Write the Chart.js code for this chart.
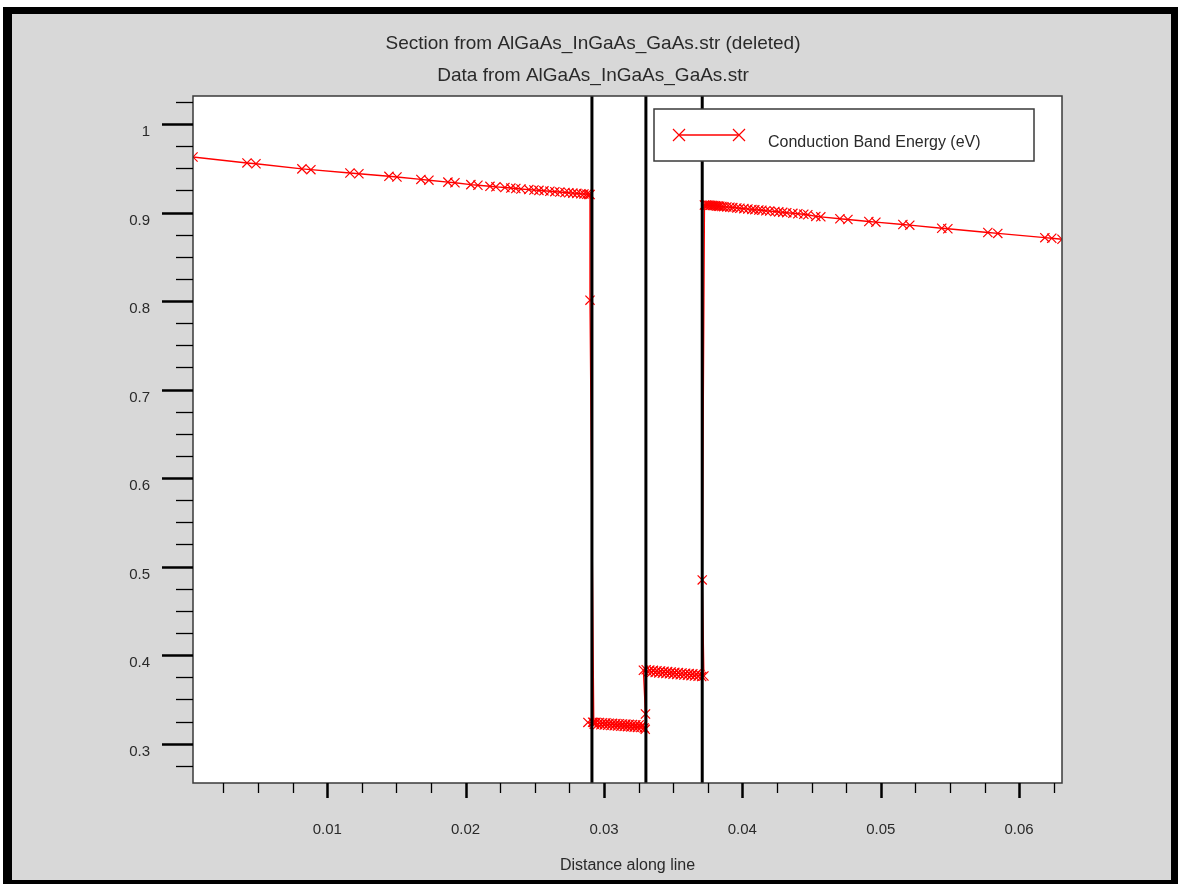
<!DOCTYPE html>
<html><head><meta charset="utf-8">
<script src="https://cdn.jsdelivr.net/npm/chart.js@4"></script>
<style>html,body{margin:0;padding:0;background:#fff;}canvas{display:block;}</style>
</head><body>
<canvas id="c" width="1178" height="884"></canvas>
<script>
// ---- data ----
const titles = ['Section from AlGaAs_InGaAs_GaAs.str (deleted)', 'Data from AlGaAs_InGaAs_GaAs.str'];
const seriesLabel = 'Conduction Band Energy (eV)';
const xTitle = 'Distance along line';
const xRange = [0.0003, 0.0631];
const yRange = [0.2556, 1.0316];
const xStep = 0.0025, xMajor = 0.01;
const yStep = 0.025, yMajor = 0.1;
const boundaries = [0.02913, 0.03303, 0.03710];

// left AlGaAs region (ends with the interface point at 0.8)
const distLeft = [0.00030,0.00420,0.00485,0.00817,0.00882,0.01164,0.01229,0.01446,0.01504,0.01677,0.01735,0.01872,0.01923,0.02038,0.02089,0.02176,0.02219,0.02284,0.02327,0.02363,0.02400,0.02457,0.02494,0.02530,0.02566,0.02609,0.02645,0.02681,0.02718,0.02746,0.02775,0.02804,0.02833,0.02855,0.02876,0.02891,0.02900,0.02899];
const ecLeft   = [0.9627,0.9560,0.9551,0.9493,0.9484,0.9446,0.9438,0.9409,0.9401,0.9374,0.9365,0.9343,0.9336,0.9315,0.9308,0.9296,0.9290,0.9282,0.9276,0.9271,0.9266,0.9259,0.9254,0.9250,0.9245,0.9240,0.9235,0.9231,0.9226,0.9223,0.9219,0.9216,0.9212,0.9210,0.9207,0.9205,0.9203,0.8010];
// first well (dense mesh, two rows of nodes)
const distWell1 = [0.02926,0.02884,0.02918,0.02930,0.02942,0.02954,0.02966,0.02978,0.02990,0.03002,0.03014,0.03026,0.03038,0.03050,0.03062,0.03074,0.03086,0.03098,0.03110,0.03122,0.03134,0.03146,0.03158,0.03170,0.03182,0.03194,0.03206,0.03218,0.03230,0.03242,0.03254,0.03266,0.03278,0.03290,0.03298,0.03300];
const ecWell1   = [0.3240,0.3240,0.3243,0.3219,0.3241,0.3216,0.3239,0.3214,0.3237,0.3211,0.3235,0.3208,0.3232,0.3206,0.3230,0.3203,0.3228,0.3200,0.3226,0.3198,0.3223,0.3195,0.3221,0.3192,0.3219,0.3190,0.3217,0.3187,0.3214,0.3184,0.3212,0.3182,0.3210,0.3178,0.3162,0.3335];
// second well
const distWell2 = [0.03285,0.03305,0.03318,0.03331,0.03344,0.03357,0.03370,0.03383,0.03396,0.03409,0.03422,0.03434,0.03447,0.03460,0.03473,0.03486,0.03499,0.03512,0.03525,0.03538,0.03551,0.03564,0.03577,0.03590,0.03603,0.03616,0.03629,0.03642,0.03654,0.03667,0.03680,0.03693,0.03706,0.03722,0.03710];
const ecWell2   = [0.3830,0.3835,0.3810,0.3831,0.3807,0.3828,0.3803,0.3824,0.3800,0.3821,0.3796,0.3817,0.3793,0.3814,0.3789,0.3810,0.3786,0.3806,0.3782,0.3803,0.3779,0.3799,0.3776,0.3796,0.3772,0.3792,0.3769,0.3789,0.3765,0.3786,0.3762,0.3782,0.3758,0.3765,0.4850];
// right GaAs region
const distRight = [0.03726,0.03740,0.03751,0.03762,0.03772,0.03783,0.03794,0.03805,0.03816,0.03827,0.03837,0.03852,0.03866,0.03888,0.03910,0.03931,0.03960,0.03982,0.04011,0.04040,0.04069,0.04090,0.04119,0.04141,0.04170,0.04198,0.04235,0.04263,0.04292,0.04321,0.04365,0.04401,0.04444,0.04473,0.04531,0.04567,0.04705,0.04763,0.04914,0.04965,0.05160,0.05210,0.05441,0.05485,0.05774,0.05846,0.06186,0.06236,0.06310];
const ecRight   = [0.9085,0.9085,0.9084,0.9082,0.9081,0.9079,0.9078,0.9076,0.9074,0.9072,0.9071,0.9068,0.9066,0.9063,0.9059,0.9056,0.9052,0.9048,0.9044,0.9040,0.9035,0.9032,0.9028,0.9025,0.9020,0.9016,0.9011,0.9007,0.9002,0.8998,0.8991,0.8986,0.8980,0.8975,0.8956,0.8951,0.8929,0.8921,0.8898,0.8891,0.8864,0.8857,0.8822,0.8816,0.8774,0.8764,0.8716,0.8709,0.8698];

// ---- chart ----
const FONT = '"Liberation Sans", Arial, Helvetica, sans-serif';
Chart.defaults.font.family = FONT;
const TEXT = '#2a2a2a';
const RED = '#ff0000';

const distance = [].concat(distLeft, distWell1, distWell2, distRight);
const energy = [].concat(ecLeft, ecWell1, ecWell2, ecRight);
const points = distance.map((d, i) => ({x: d, y: energy[i]}));

function isMajor(v, m) { const r = v / m; return Math.abs(r - Math.round(r)) < 1e-6; }
function fmt(v, m) { const d = Math.round(-Math.log10(m)); return String(parseFloat((Math.round(v / m) * m).toFixed(d))); }

function drawCross(c, x, y, r) {
  const d = r * Math.SQRT1_2;
  c.beginPath();
  c.moveTo(x - d, y - d); c.lineTo(x + d, y + d);
  c.moveTo(x - d, y + d); c.lineTo(x + d, y - d);
  c.stroke();
}

const decor = {
  id: 'decor',
  beforeDraw(chart) {
    const c = chart.ctx, a = chart.chartArea;
    c.save();
    c.fillStyle = '#fff'; c.fillRect(0, 0, 1178, 884);
    c.fillStyle = '#000'; c.fillRect(3, 7, 1175, 877);
    c.fillStyle = '#d8d8d8'; c.fillRect(12, 14, 1159, 866);
    c.fillStyle = '#fff'; c.fillRect(a.left, a.top, a.right - a.left, a.bottom - a.top);
    c.fillStyle = TEXT; c.textAlign = 'center'; c.textBaseline = 'middle';
    c.font = '19px ' + FONT;
    c.fillText(titles[0], 593, 44);
    c.fillText(titles[1], 593, 76);
    c.font = '16px ' + FONT;
    c.fillText(xTitle, (a.left + a.right) / 2, 866);
    c.restore();
  },
  afterDatasetsDraw(chart) {
    const c = chart.ctx, a = chart.chartArea;
    const xs = chart.scales.x, ys = chart.scales.y;
    c.save();
    // frame
    c.strokeStyle = '#3a3a3a'; c.lineWidth = 1.5;
    c.strokeRect(a.left, a.top, a.right - a.left, a.bottom - a.top);
    // ticks
    c.strokeStyle = '#000';
    ys.ticks.forEach(t => {
      const p = Math.round(ys.getPixelForValue(t.value)) + 0.5;
      const maj = isMajor(t.value, yMajor);
      c.lineWidth = maj ? 2.5 : 1.3;
      c.beginPath(); c.moveTo(a.left - (maj ? 31 : 17), p); c.lineTo(a.left, p); c.stroke();
    });
    xs.ticks.forEach(t => {
      const p = Math.round(xs.getPixelForValue(t.value)) + 0.5;
      const maj = isMajor(t.value, xMajor);
      c.lineWidth = maj ? 2.5 : 1.3;
      c.beginPath(); c.moveTo(p, a.bottom); c.lineTo(p, a.bottom + (maj ? 15 : 10)); c.stroke();
    });
    // legend
    const lx = 654, ly = 109, lw = 380, lh = 52;
    c.fillStyle = '#fff'; c.fillRect(lx, ly, lw, lh);
    c.strokeStyle = '#3a3a3a'; c.lineWidth = 1.5; c.strokeRect(lx, ly, lw, lh);
    c.strokeStyle = RED; c.lineWidth = 1.3;
    c.beginPath(); c.moveTo(679, 135); c.lineTo(739, 135); c.stroke();
    c.lineWidth = 1.2;
    drawCross(c, 679, 135, 8.5); drawCross(c, 739, 135, 8.5);
    c.fillStyle = TEXT; c.font = '16px ' + FONT; c.textAlign = 'left'; c.textBaseline = 'middle';
    c.fillText(seriesLabel, 768, 143);
    c.restore();
  }
};

new Chart(document.getElementById('c'), {
  type: 'line',
  data: {
    datasets: [
      ...boundaries.map(b => ({
        label: 'boundary', data: [{x: b, y: yRange[0]}, {x: b, y: yRange[1]}],
        borderColor: '#000', borderWidth: 3, pointRadius: 0, order: 0
      })),
      {
        label: seriesLabel, data: points,
        borderColor: RED, borderWidth: 1.4, tension: 0,
        pointStyle: 'crossRot', pointRadius: 6.5, pointBorderWidth: 1.2,
        pointBorderColor: RED, pointBackgroundColor: RED, order: 1
      }
    ]
  },
  options: {
    responsive: false, animation: false, devicePixelRatio: 1,
    layout: {padding: {left: 0, top: 96, right: 116, bottom: 0}},
    plugins: {legend: {display: false}, tooltip: {enabled: false}, title: {display: false}},
    scales: {
      x: {
        type: 'linear', min: xRange[0], max: xRange[1],
        afterFit(s) { s.height = 101; },
        grid: {display: false, drawTicks: false}, border: {display: false},
        ticks: {stepSize: xStep, includeBounds: false, autoSkip: false, maxRotation: 0, minRotation: 0,
          padding: 38, color: TEXT, font: {size: 15},
          callback: v => isMajor(v, xMajor) ? fmt(v, xMajor) : ''}
      },
      y: {
        type: 'linear', min: yRange[0], max: yRange[1],
        afterFit(s) { s.width = 193; },
        grid: {display: false, drawTicks: false}, border: {display: false},
        ticks: {stepSize: yStep, includeBounds: false, autoSkip: false, padding: 43, labelOffset: 8,
          color: TEXT, font: {size: 15},
          callback: v => isMajor(v, yMajor) ? fmt(v, yMajor) : ''}
      }
    }
  },
  plugins: [decor]
});
</script>
</body></html>
